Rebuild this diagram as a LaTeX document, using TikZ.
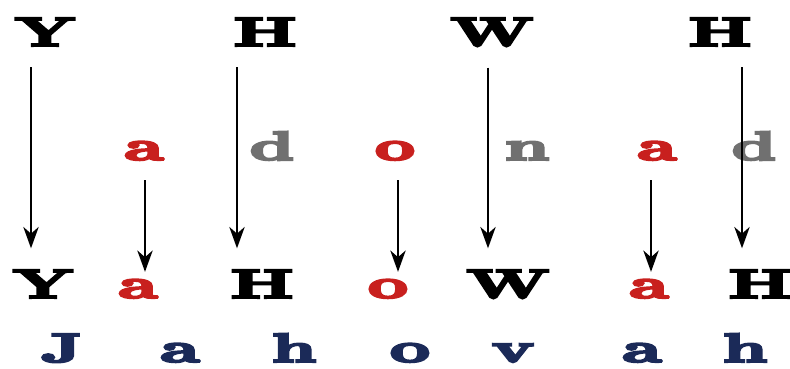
\documentclass[tikz,border=0pt]{standalone}
\usepackage{fontspec}
\usepackage{xcolor}
\usepackage{tikz}
\usetikzlibrary{arrows.meta}
\newfontfamily\fatfont[FakeBold=5]{lmroman10-bold.otf}
\definecolor{vowred}{RGB}{200,32,30}
\definecolor{ltrgray}{RGB}{112,112,112}
\definecolor{navy}{RGB}{27,42,88}

\begin{document}
\begin{tikzpicture}[x=0.03cm,y=-0.03cm,
every node/.style={inner sep=0pt,anchor=base,xscale=1.7,font=\fontsize{35}{35}\fatfont},
cons/.style={text=black},vow/.style={text=vowred},
extra/.style={text=ltrgray},jname/.style={text=navy},
arr/.style={-{Stealth[length=6.4mm,width=4.6mm,inset=2mm]},line width=2pt}]
\useasboundingbox(0,0)rectangle(790,369);
% upper row: the four letters
\node[cons](tY)at(45,46){Y};
\node[cons](tH)at(265,46){H};
\node[cons](tW)at(492,46){W};
\node[cons](tHH)at(720,46){H};
% middle row: added letters
\node[vow](ma)at(144,160){a};
\node[extra](md)at(272,160){d};
\node[vow](mo)at(395,160){o};
\node[extra](mn)at(527,160){n};
\node[vow](maa)at(657,160){a};
\node[extra](mdd)at(754,160){d};
% lower row
\node[cons](bY)at(43,298){Y};
\node[vow](ba)at(138,298){a};
\node[cons](bH)at(262,298){H};
\node[vow](bo)at(388,298){o};
\node[cons](bW)at(508,298){W};
\node[vow](baa)at(649,298){a};
\node[cons](bHH)at(760,298){H};
% the name
\node[jname](jJ)at(62,362){J};
\node[jname](ja)at(180,362){a};
\node[jname](jh)at(294,362){h};
\node[jname](jo)at(410,362){o};
\node[jname](jv)at(513,362){v};
\node[jname](jaa)at(642,362){a};
\node[jname](jhh)at(745,362){h};
% long arrows
\draw[arr,shorten <=0.63cm,shorten >=0.64cm]([xshift=-0.42cm]tY.south)--([xshift=-0.42cm]tY.south|-bY.north);
\draw[arr,shorten <=0.63cm,shorten >=0.64cm]([xshift=-0.84cm]tH.south)--([xshift=-0.84cm]tH.south|-bH.north);
\draw[arr,shorten <=0.63cm,shorten >=0.64cm]([xshift=-0.12cm]tW.south)--([xshift=-0.12cm]tW.south|-bW.north);
\draw[arr,shorten <=0.63cm,shorten >=0.64cm]([xshift=0.66cm]tHH.south)--([xshift=0.66cm]tHH.south|-bHH.north);
% short arrows
\draw[arr,shorten <=0.6cm,shorten >=0.22cm]([xshift=0.03cm]ma.south)--([xshift=0.03cm]ma.south|-ba.north);
\draw[arr,shorten <=0.6cm,shorten >=0.22cm]([xshift=0.09cm]mo.south)--([xshift=0.09cm]mo.south|-bo.north);
\draw[arr,shorten <=0.6cm,shorten >=0.22cm]([xshift=-0.18cm]maa.south)--([xshift=-0.18cm]maa.south|-baa.north);
\end{tikzpicture}
\end{document}
